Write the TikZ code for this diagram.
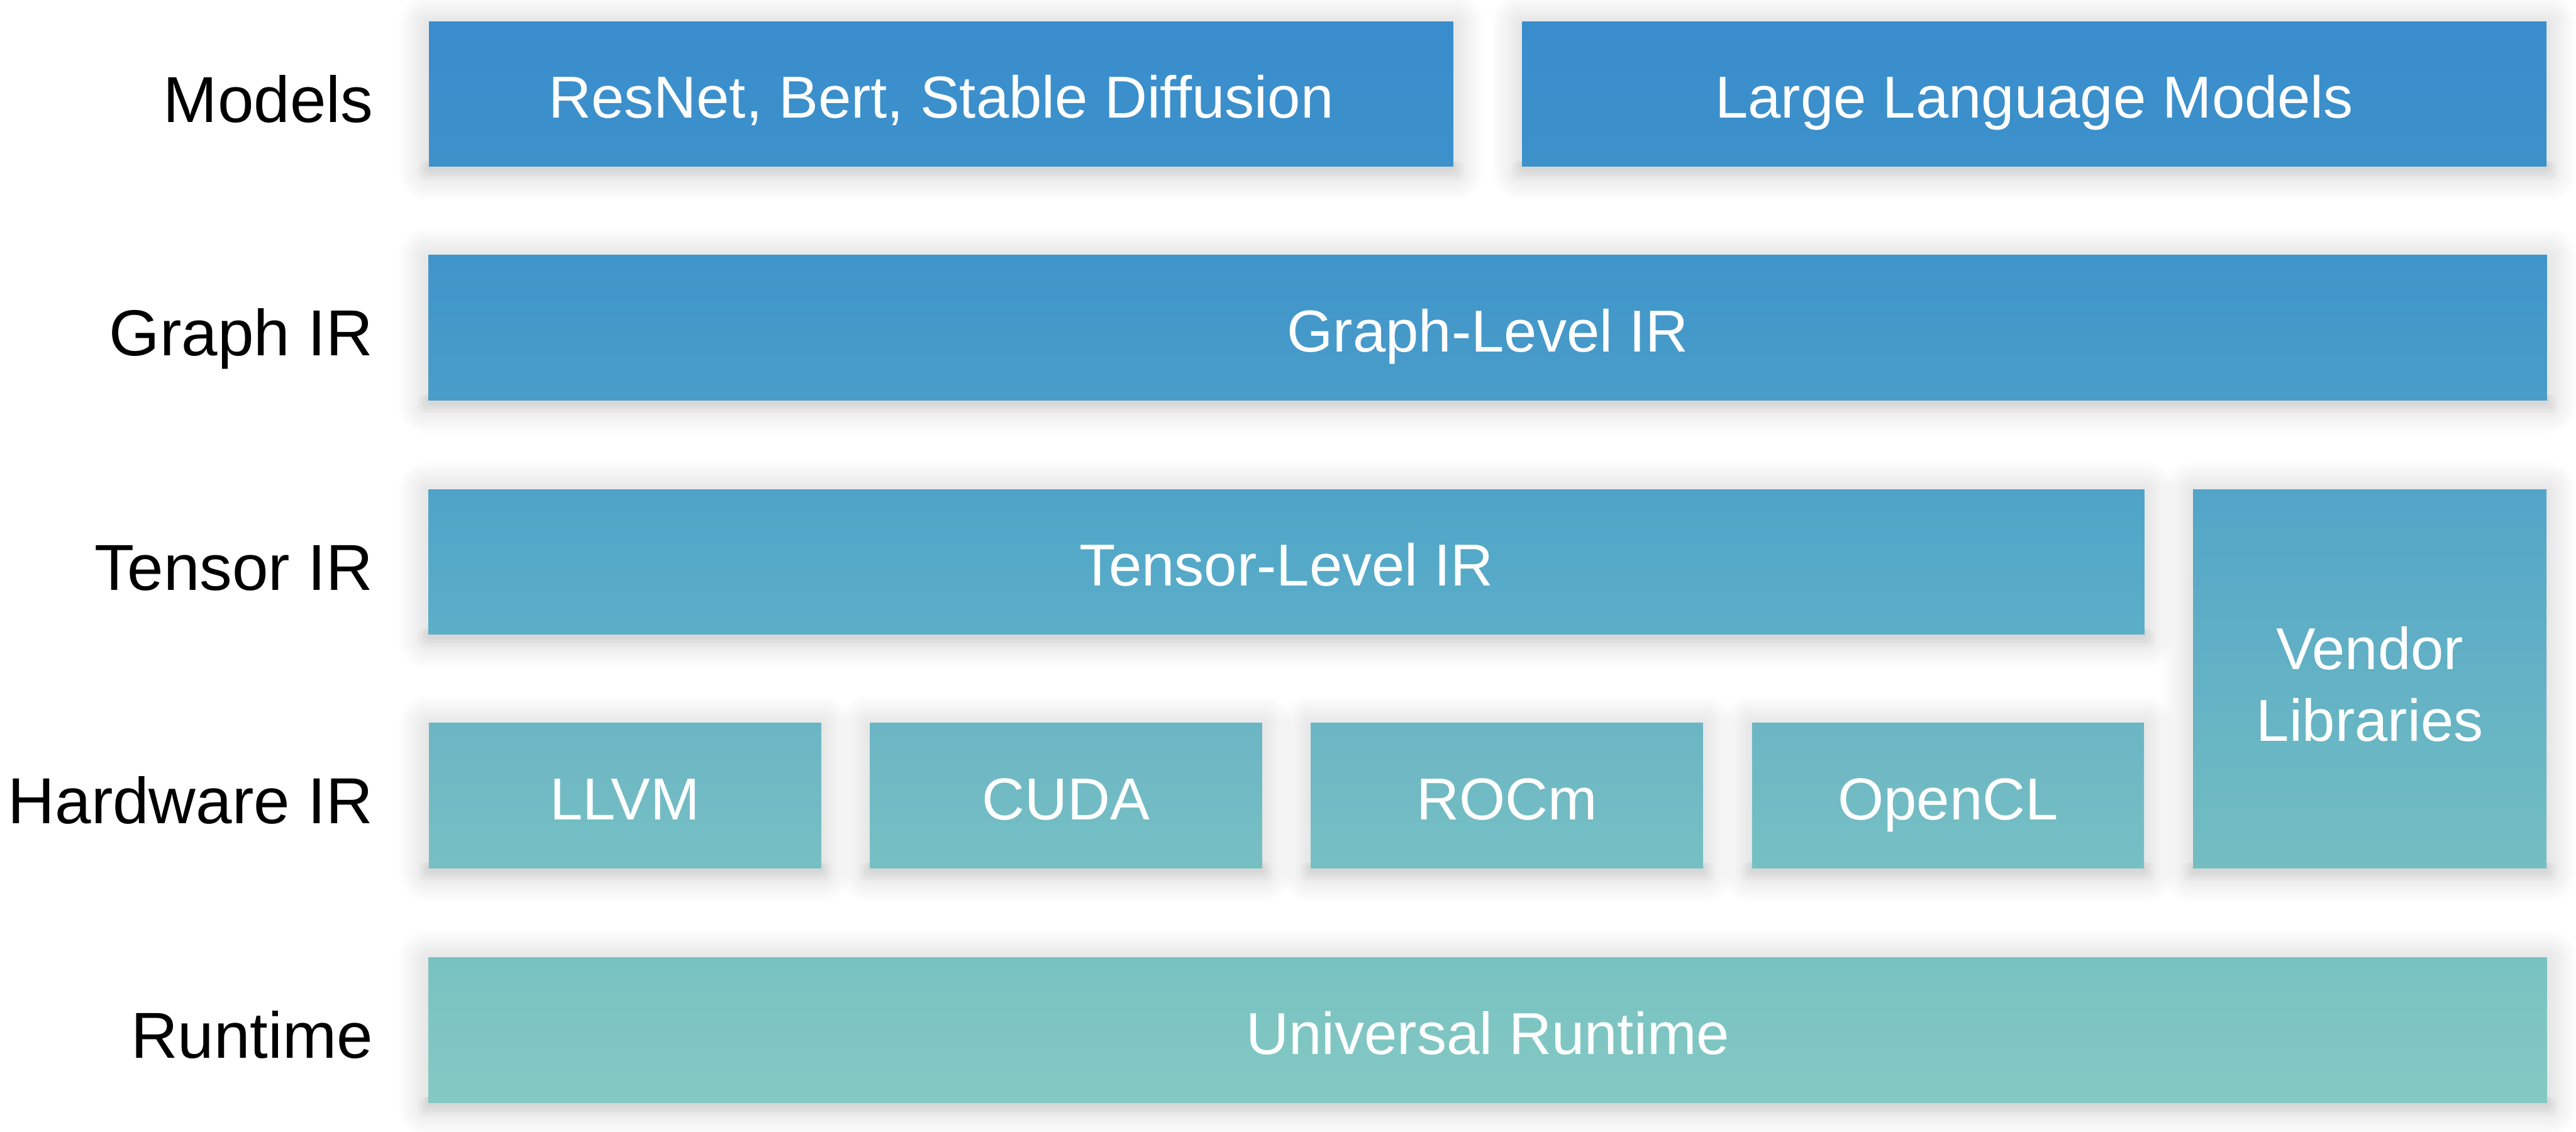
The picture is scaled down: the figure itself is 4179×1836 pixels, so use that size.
\documentclass[tikz,border=0pt]{standalone}
\usepackage{fontspec}
\setmainfont{Liberation Sans}
\usetikzlibrary{backgrounds,calc}
\definecolor{mT}{HTML}{3A8DCC}\definecolor{mB}{HTML}{3C91CB}
\definecolor{gT}{HTML}{3F95CA}\definecolor{gB}{HTML}{4A9DC9}
\definecolor{tT}{HTML}{4FA3C8}\definecolor{tB}{HTML}{5BAFC8}
\definecolor{vT}{HTML}{52A5C8}\definecolor{vB}{HTML}{74BEC2}
\definecolor{hT}{HTML}{6CB5C4}\definecolor{hB}{HTML}{76C0C4}
\definecolor{rT}{HTML}{78C2C2}\definecolor{rB}{HTML}{84C9C3}
\tikzset{
  box/.style={rectangle, inner sep=0pt, draw=none, text=white, align=center,
    font=\fontsize{27.3}{33}\selectfont, shading=axis, text height=22.3pt, text depth=0pt},
  lab/.style={anchor=east, inner sep=0pt, text=black, font=\fontsize{30}{36}\selectfont,
    text height=26pt, text depth=0pt},
}
\newcommand\halo[1]{%
  \foreach \d in {4,8,...,48}{%
    \pgfmathsetmacro\rr{\d*0.01}%
    \fill[black,opacity=0.0065,rounded corners=\rr cm]
      ([shift={(-\d,\d+6)}]#1.south west) rectangle ([shift={(\d,-\d+4)}]#1.north east);
  }%
  \foreach \d in {4,10,16}{%
    \fill[black,opacity=0.02,rounded corners=0.1cm]
      ([shift={(-\d,\d+4)}]#1.south west) rectangle ([shift={(\d,-10)}]#1.south east);
  }%
}
\begin{document}
\begin{tikzpicture}[x=0.01cm,y=-0.01cm]
\useasboundingbox (0,0) rectangle (4179,1836);
% Models row
\node[box, minimum width=1661.5*0.01cm, minimum height=2.35cm, top color=mT, bottom color=mB] (m1) at (1526.75,152.5) {ResNet, Bert, Stable Diffusion};
\node[box, minimum width=1661.5*0.01cm, minimum height=2.35cm, top color=mT, bottom color=mB] (m2) at (3300.25,152.5) {Large Language Models};
% Graph row
\node[box, minimum width=34.35cm, minimum height=2.35cm, top color=gT, bottom color=gB] (g) at (2413.5,531.5) {Graph-Level IR};
% Tensor row
\node[box, minimum width=27.82cm, minimum height=2.35cm, top color=tT, bottom color=tB] (t) at (2087,911.5) {Tensor-Level IR};
\node[box, minimum width=5.73cm, minimum height=6.14cm, top color=vT, bottom color=vB, text height=2.02cm, text depth=0pt] (v) at (3844.5,1101) {Vendor\\Libraries};
% Hardware row
\node[box, minimum width=6.355cm, minimum height=2.35cm, top color=hT, bottom color=hB] (llvm) at (1013.75,1290.5) {LLVM};
\node[box, minimum width=6.355cm, minimum height=2.35cm, top color=hT, bottom color=hB] (cuda) at (1729.25,1290.5) {CUDA};
\node[box, minimum width=6.355cm, minimum height=2.35cm, top color=hT, bottom color=hB] (rocm) at (2444.75,1290.5) {ROCm};
\node[box, minimum width=6.355cm, minimum height=2.35cm, top color=hT, bottom color=hB] (ocl) at (3160.25,1290.5) {OpenCL};
% Runtime row
\node[box, minimum width=34.35cm, minimum height=2.35cm, top color=rT, bottom color=rB] (rt) at (2413.5,1671) {Universal Runtime};
% Row labels
\node[lab] (lm) at (606,152.5) {Models};
\node[lab] (lg) at (606,531.5) {Graph IR};
\node[lab] (lt) at (606,911.5) {Tensor IR};
\node[lab] (lh) at (606,1290.5) {Hardware IR};
\node[lab] (lr) at (606,1671) {Runtime};
% soft shadows
\begin{scope}[on background layer]
\fill[white] (0,0) rectangle (4179,1836);
\halo{m1}\halo{m2}\halo{g}\halo{t}\halo{v}\halo{llvm}\halo{cuda}\halo{rocm}\halo{ocl}\halo{rt}
\end{scope}
\end{tikzpicture}
\end{document}
